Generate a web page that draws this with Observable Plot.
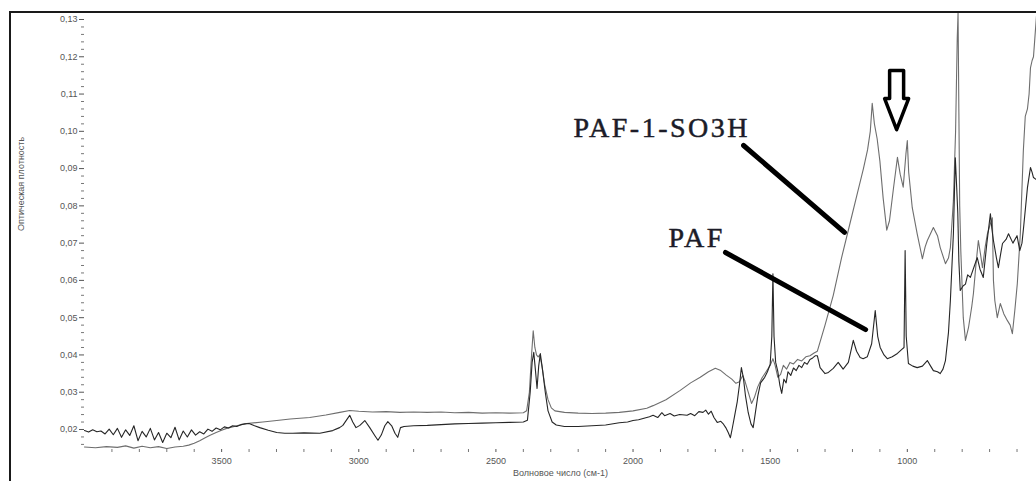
<!DOCTYPE html>
<html><head><meta charset="utf-8">
<script src="https://cdn.jsdelivr.net/npm/d3@7"></script>
<script src="https://cdn.jsdelivr.net/npm/@observablehq/plot@0.6"></script>
<style>
html,body{margin:0;padding:0;background:#fff;overflow:hidden}
#wrap{position:relative;width:1036px;height:481px;overflow:hidden}
#border{position:absolute;left:9px;top:11px;width:1100px;height:500px;border-left:2px solid #1a1a1a;border-top:2px solid #1a1a1a;pointer-events:none}
</style></head>
<body><div id="wrap"><div id="border"></div></div>
<script>
// ---- Data (wavenumber cm-1, optical density) ----
const so3hWavenumber = [4000,3960,3920,3880,3850,3820,3790,3760,3730,3700,3670,3640,3620,3600,3580,3560,3544,3520,3500,3482,3450,3409,3350,3299,3250,3179,3120,3069,3033,3000,2950,2900,2850,2800,2750,2700,2650,2600,2550,2500,2450,2400,2388,2378,2370,2364,2358,2352,2346,2340,2332,2322,2310,2298,2285,2250,2200,2150,2100,2050,2000,1950,1927,1880,1828,1790,1755,1725,1700,1680,1660,1640,1625,1612,1600,1592,1580,1568,1558,1545,1530,1515,1500,1490,1482,1472,1462,1452,1440,1428,1415,1400,1385,1370,1355,1340,1328,1300,1270,1240,1210,1180,1160,1145,1135,1128,1120,1110,1100,1088,1075,1065,1050,1036,1026,1015,1005,1000,995,982,964,945,935,927,905,890,880,861,850,843,832,824,818,815,812,809,805,796,788,777,765,759,750,741,733,726,716,708,698,690,686,681,672,666,661,648,635,625,617,608,599,588,577,570,562,556,551,545,540,535,529];
const so3hAbsorbance = [0.0153,0.0151,0.0154,0.0152,0.0156,0.0150,0.0155,0.0151,0.0154,0.0149,0.0153,0.0155,0.0158,0.0163,0.0170,0.0178,0.0184,0.0192,0.0198,0.0203,0.0209,0.0216,0.0220,0.0224,0.0228,0.0232,0.0239,0.0246,0.0251,0.0249,0.0247,0.0248,0.0246,0.0247,0.0246,0.0247,0.0245,0.0246,0.0244,0.0245,0.0244,0.0245,0.0250,0.0300,0.0400,0.0465,0.0420,0.0400,0.0395,0.0400,0.0370,0.0320,0.0280,0.0258,0.0250,0.0246,0.0244,0.0243,0.0244,0.0246,0.0250,0.0257,0.0264,0.0280,0.0305,0.0325,0.0340,0.0355,0.0364,0.0358,0.0346,0.0335,0.0324,0.0328,0.0345,0.0330,0.0300,0.0270,0.0285,0.0315,0.0338,0.0355,0.0372,0.0390,0.0372,0.0340,0.0348,0.0372,0.0362,0.0380,0.0376,0.0388,0.0384,0.0395,0.0398,0.0405,0.0410,0.0480,0.0560,0.0660,0.0750,0.0840,0.0900,0.0950,0.1000,0.1075,0.1020,0.0980,0.0920,0.0820,0.0735,0.0760,0.0850,0.0930,0.0885,0.0850,0.0940,0.0975,0.0890,0.0795,0.0725,0.0658,0.0690,0.0707,0.0742,0.0720,0.0688,0.0645,0.0660,0.0688,0.0814,0.1000,0.1250,0.1318,0.1050,0.0800,0.0680,0.0500,0.0439,0.0473,0.0530,0.0565,0.0640,0.0707,0.0670,0.0634,0.0690,0.0725,0.0750,0.0768,0.0600,0.0546,0.0500,0.0520,0.0538,0.0510,0.0492,0.0480,0.0457,0.0520,0.0591,0.0725,0.0948,0.1040,0.1060,0.1100,0.1170,0.1190,0.1200,0.1250,0.1310];

const pafWavenumber = [4000,3985,3970,3955,3940,3925,3910,3895,3880,3865,3850,3835,3820,3805,3790,3775,3760,3745,3730,3715,3700,3685,3670,3655,3640,3625,3610,3595,3580,3565,3550,3535,3520,3505,3490,3475,3460,3445,3430,3415,3400,3380,3361,3330,3299,3270,3241,3200,3142,3095,3070,3058,3045,3033,3022,3010,2996,2978,2960,2940,2930,2918,2905,2894,2880,2868,2858,2848,2835,2800,2750,2700,2650,2600,2550,2500,2450,2400,2385,2375,2368,2362,2356,2350,2344,2338,2330,2320,2310,2295,2280,2250,2200,2150,2100,2050,2020,2000,1980,1960,1940,1927,1910,1895,1885,1865,1850,1830,1803,1790,1775,1760,1745,1735,1725,1715,1705,1693,1680,1672,1662,1653,1645,1639,1630,1620,1612,1605,1598,1590,1580,1570,1562,1555,1545,1535,1520,1510,1500,1494,1490,1486,1480,1472,1465,1458,1450,1442,1435,1425,1415,1405,1395,1385,1375,1365,1355,1345,1335,1328,1318,1300,1290,1270,1252,1234,1215,1197,1185,1172,1161,1146,1130,1117,1108,1099,1085,1073,1055,1036,1020,1012,1008,1004,996,980,964,945,927,915,905,890,880,870,861,850,843,832,825,820,816,812,807,797,788,780,770,755,745,735,723,710,697,692,686,675,668,660,653,640,631,615,600,590,582,575,562,551,545,540,529];
const pafAbsorbance = [0.0197,0.0193,0.0199,0.0194,0.0196,0.0188,0.0201,0.0186,0.0203,0.0179,0.0199,0.0184,0.0210,0.0170,0.0195,0.0180,0.0203,0.0172,0.0192,0.0165,0.0190,0.0178,0.0206,0.0172,0.0196,0.0180,0.0199,0.0185,0.0194,0.0188,0.0201,0.0195,0.0204,0.0199,0.0207,0.0204,0.0210,0.0208,0.0213,0.0215,0.0216,0.0210,0.0205,0.0198,0.0192,0.0190,0.0190,0.0191,0.0190,0.0197,0.0205,0.0211,0.0225,0.0238,0.0220,0.0205,0.0211,0.0224,0.0205,0.0182,0.0171,0.0185,0.0210,0.0221,0.0210,0.0190,0.0179,0.0205,0.0208,0.0210,0.0211,0.0213,0.0215,0.0216,0.0217,0.0218,0.0219,0.0220,0.0225,0.0300,0.0380,0.0407,0.0360,0.0310,0.0370,0.0404,0.0360,0.0300,0.0250,0.0220,0.0212,0.0208,0.0208,0.0210,0.0212,0.0218,0.0220,0.0224,0.0226,0.0230,0.0234,0.0238,0.0232,0.0245,0.0237,0.0243,0.0236,0.0240,0.0238,0.0243,0.0237,0.0248,0.0246,0.0252,0.0241,0.0249,0.0232,0.0219,0.0222,0.0216,0.0205,0.0192,0.0178,0.0200,0.0235,0.0275,0.0320,0.0366,0.0340,0.0290,0.0245,0.0215,0.0205,0.0240,0.0290,0.0325,0.0340,0.0355,0.0375,0.0450,0.0618,0.0450,0.0380,0.0355,0.0320,0.0297,0.0335,0.0325,0.0355,0.0345,0.0365,0.0358,0.0372,0.0366,0.0380,0.0375,0.0388,0.0392,0.0398,0.0398,0.0366,0.0350,0.0352,0.0364,0.0380,0.0362,0.0380,0.0439,0.0410,0.0393,0.0390,0.0395,0.0430,0.0519,0.0450,0.0420,0.0400,0.0390,0.0395,0.0404,0.0415,0.0420,0.0680,0.0450,0.0377,0.0370,0.0366,0.0370,0.0385,0.0370,0.0358,0.0355,0.0350,0.0362,0.0385,0.0460,0.0546,0.0725,0.0929,0.0850,0.0780,0.0650,0.0573,0.0585,0.0590,0.0615,0.0608,0.0640,0.0661,0.0630,0.0608,0.0700,0.0779,0.0740,0.0707,0.0660,0.0634,0.0670,0.0699,0.0710,0.0725,0.0700,0.0720,0.0680,0.0700,0.0750,0.0849,0.0903,0.0890,0.0876,0.0870];

// axis ticks
const xTicks = [3500, 3000, 2500, 2000, 1500, 1000];
const yTicks = [0.02, 0.03, 0.04, 0.05, 0.06, 0.07, 0.08, 0.09, 0.10, 0.11, 0.12, 0.13];
const xTitle = "Волновое число (см-1)";
const yTitle = "Оптическая плотность";

// annotations
const labelText = ["PAF-1-SO3H", "PAF"];
const labelX = [2217, 1871];
const labelY = [0.1009, 0.0714];
const pointerX1 = [1597, 1663];
const pointerY1 = [0.0962, 0.0675];
const pointerX2 = [1229, 1152];
const pointerY2 = [0.0729, 0.0468];
const arrowX = [1039];
const arrowY = [0.1163];

// ---- build tables ----
const so3h = so3hWavenumber.map((w, i) => ({w, a: so3hAbsorbance[i]}));
const paf = pafWavenumber.map((w, i) => ({w, a: pafAbsorbance[i]}));
const labels = labelText.map((t, i) => ({t, x: labelX[i], y: labelY[i]}));
const pointers = pointerX1.map((x1, i) => ({x1, y1: pointerY1[i], x2: pointerX2[i], y2: pointerY2[i]}));
const arrows = arrowX.map((x, i) => ({x, y: arrowY[i]}));

const xMinor = d3.range(3900, 500, -100).filter(v => !xTicks.includes(v));
const yMinor = d3.range(16, 132, 2).map(v => v / 1000).filter(v => !yTicks.some(t => Math.abs(t - v) < 1e-9));
const fmt = v => v.toFixed(2).replace(".", ",");

const blockArrow = {
  draw(context, l) {
    const sw = 7, hw = 12, hs = 28;
    context.moveTo(-sw, 0);
    context.lineTo(-sw, -hs);
    context.lineTo(-hw, -hs);
    context.lineTo(0, -l);
    context.lineTo(hw, -hs);
    context.lineTo(sw, -hs);
    context.lineTo(sw, 0);
    context.closePath();
  }
};

const chart = Plot.plot({
  width: 1036,
  height: 481,
  marginLeft: 84,
  marginRight: 0,
  marginTop: 12,
  marginBottom: 32,
  style: {fontFamily: "'Liberation Sans', Arial, sans-serif", fontSize: "9px", background: "transparent", overflow: "visible"},
  x: {domain: [4000, 529]},
  y: {domain: [0.01463, 0.13188]},
  marks: [
    Plot.axisY(yMinor, {tickSize: 3, tickFormat: () => "", label: null, color: "#777"}),
    Plot.axisY(yTicks, {tickSize: 5, tickPadding: 2, tickFormat: fmt, label: null, line: true, color: "#555"}),
    Plot.axisX(xMinor, {tickSize: 3, tickFormat: () => "", label: null, color: "#777"}),
    Plot.axisX(xTicks, {tickSize: 3, tickPadding: 5, tickFormat: d => String(d), label: null, line: true, color: "#555"}),
    Plot.text([yTitle], {text: d => d, frameAnchor: "left", dx: -63, rotate: -90, fill: "#555", fontSize: 9}),
    Plot.text([xTitle], {text: d => d, frameAnchor: "bottom", dy: 26, fill: "#555", fontSize: 9}),
    Plot.line(so3h, {x: "w", y: "a", stroke: "#6e6e6e", strokeWidth: 1.1, clip: true}),
    Plot.line(paf, {x: "w", y: "a", stroke: "#262626", strokeWidth: 1.1, clip: true}),
    Plot.link(pointers, {x1: "x1", y1: "y1", x2: "x2", y2: "y2", stroke: "#000", strokeWidth: 5, strokeLinecap: "round"}),
    Plot.text(labels, {x: "x", y: "y", text: "t", textAnchor: "start", fontFamily: "'Liberation Serif', 'Times New Roman', serif", fontSize: 28, fill: "#1c1c28", stroke: "#1c1c28", strokeWidth: 0.5, className: "annot"}),
    Plot.vector(arrows, {x: "x", y: "y", length: 59, rotate: 180, anchor: "start", shape: blockArrow, fill: "white", stroke: "#000", strokeWidth: 3.5})
  ]
});
d3.select(chart).selectAll(".annot text").attr("letter-spacing", "2.5px");
document.getElementById("wrap").prepend(chart);
</script>
</body></html>
